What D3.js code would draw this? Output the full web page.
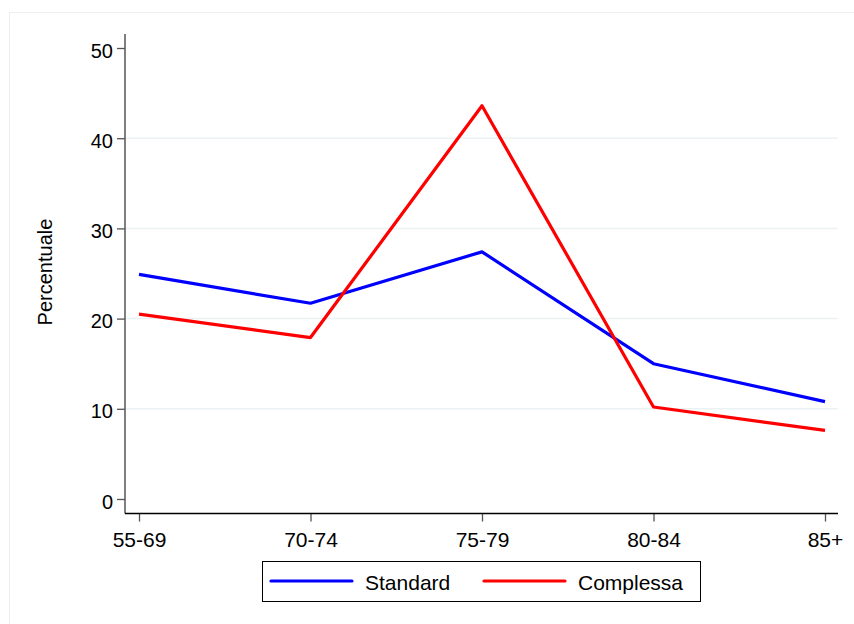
<!DOCTYPE html>
<html><head><meta charset="utf-8">
<script src="https://cdn.jsdelivr.net/npm/d3@7"></script>
<style>body{margin:0;background:#fff}svg{display:block;font-family:"Liberation Sans",Arial,sans-serif}</style>
</head><body>
<script>
const categories = ["55-69","70-74","75-79","80-84","85+"];
const standard = [24.9, 21.7, 27.4, 15.0, 10.8];
const complessa = [20.5, 17.9, 43.6, 10.2, 7.6];
const yTicks = [0,10,20,30,40,50];
const seriesNames = ["Standard","Complessa"];
const seriesColors = ["#0000ff","#ff0000"];

const W=854,H=624;
const svg=d3.select("body").append("svg").attr("width",W).attr("height",H);
svg.append("rect").attr("x",9.5).attr("y",12.5).attr("width",850).attr("height",620).attr("fill","none").attr("stroke","#eeeeee");

const x=d3.scalePoint().domain(categories).range([139,825]);
const y=d3.scaleLinear().domain([0,50]).range([499,48]);

// gridlines
svg.append("g").selectAll("line").data(yTicks.filter(t=>t>0&&t<50)).join("line")
  .attr("x1",126).attr("x2",838).attr("y1",d=>y(d)).attr("y2",d=>y(d))
  .attr("stroke","#eaf2f3").attr("stroke-width",1.5);

// y axis
const ya=svg.append("g").attr("transform","translate(125,0)")
  .call(d3.axisLeft(y).tickValues(yTicks).tickSize(8).tickPadding(4));
ya.select(".domain").remove();
ya.append("line").attr("x1",0).attr("x2",0).attr("y1",34).attr("y2",513.5).attr("stroke","#555").attr("stroke-width",1.5);
ya.selectAll(".tick line").attr("stroke","#555").attr("stroke-width",1.3);
ya.selectAll(".tick text").attr("font-size",20).attr("fill","#000").attr("dy","0.45em").attr("font-family","Liberation Sans, Arial, sans-serif");

// x axis
const xa=svg.append("g").attr("transform","translate(0,513.5)")
  .call(d3.axisBottom(x).tickSize(8).tickPadding(4));
xa.select(".domain").remove();
xa.append("line").attr("x1",125).attr("x2",838).attr("y1",0).attr("y2",0).attr("stroke","#000").attr("stroke-width",1.5);
xa.selectAll(".tick line").attr("stroke","#555").attr("stroke-width",1.3);
xa.selectAll(".tick text").attr("font-size",21).attr("fill","#000").attr("y",33.5).attr("dy","0").attr("font-family","Liberation Sans, Arial, sans-serif");

// y title
svg.append("text").attr("transform","translate(52,272) rotate(-90)").attr("text-anchor","middle")
  .attr("font-size",20).text("Percentuale");

// lines
const line=d3.line().x((d,i)=>x(categories[i])).y(d=>y(d));
[standard,complessa].forEach((s,k)=>{
  svg.append("path").datum(s).attr("d",line).attr("fill","none")
    .attr("stroke",seriesColors[k]).attr("stroke-width",3.2).attr("stroke-linejoin","round");
});

// legend
const lg=svg.append("g");
lg.append("rect").attr("x",262.5).attr("y",561.5).attr("width",438).attr("height",40).attr("fill","#fff").attr("stroke","#000").attr("stroke-width",1);
const lx=[271,484];
seriesNames.forEach((n,k)=>{
  lg.append("line").attr("x1",lx[k]).attr("x2",lx[k]+81).attr("y1",581).attr("y2",581)
    .attr("stroke",seriesColors[k]).attr("stroke-width",3.2).attr("stroke-linecap","round");
  lg.append("text").attr("x",lx[k]+94).attr("y",589.5).attr("font-size",21).text(n);
});
</script>
</body></html>
